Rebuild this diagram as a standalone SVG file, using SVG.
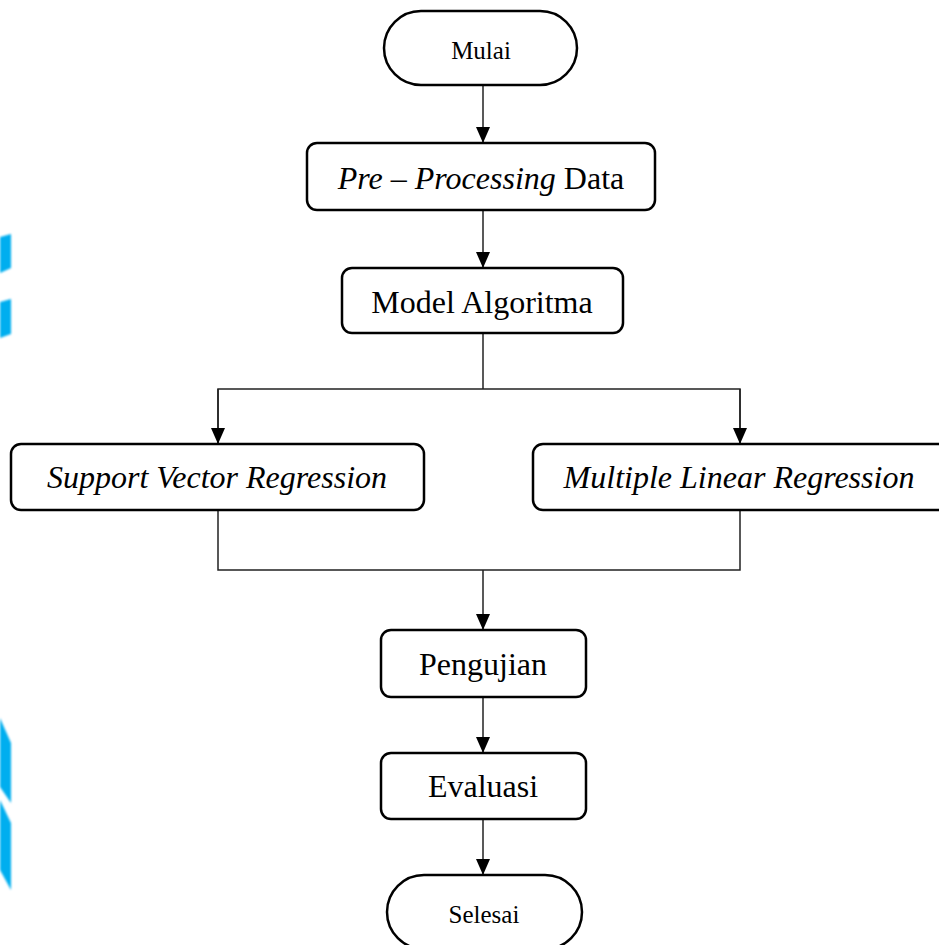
<svg xmlns="http://www.w3.org/2000/svg" width="939" height="945" viewBox="0 0 939 945">
<defs>
<marker id="arr" markerUnits="userSpaceOnUse" markerWidth="16" markerHeight="16" viewBox="0 0 16 14" refX="16" refY="7" orient="auto">
<path d="M0,0 L16,7 L0,14 Z" fill="#000"/>
</marker>
<filter id="soft" x="-20%" y="-20%" width="140%" height="140%"><feGaussianBlur stdDeviation="0.8"/></filter>
</defs>
<style>
.box{fill:#fff;stroke:#000;stroke-width:2.5}
.con{fill:none;stroke:#222;stroke-width:1.5}
.t{font-family:"Liberation Serif","Times New Roman",serif;fill:#000;text-anchor:middle}
.big{font-size:32px}
.sm{font-size:25px}
.it{font-style:italic}
.deco{fill:#00aeef}
</style>
<rect width="939" height="945" fill="#fff"/>
<g id="decor" filter="url(#soft)">
<polygon class="deco" points="0,237 11,234 11,268 0,273"/>
<polygon class="deco" points="0,302 11,299 11,334 0,338"/>
<polygon class="deco" points="0,718 11,743 11,803 0,787"/>
<polygon class="deco" points="0,800 11,823 11,890 0,870"/>
</g>
<g id="connectors">
<line class="con" x1="483" y1="85" x2="483" y2="143" marker-end="url(#arr)"/>
<line class="con" x1="483" y1="210" x2="483" y2="268" marker-end="url(#arr)"/>
<polyline class="con" points="483,333 483,389"/>
<polyline class="con" points="218,444 218,389 740,389 740,444"/>
<line class="con" x1="218" y1="389" x2="218" y2="444" marker-end="url(#arr)"/>
<line class="con" x1="740" y1="389" x2="740" y2="444" marker-end="url(#arr)"/>
<polyline class="con" points="218,510 218,570 740,570 740,510"/>
<line class="con" x1="483" y1="570" x2="483" y2="630" marker-end="url(#arr)"/>
<line class="con" x1="483" y1="697" x2="483" y2="753" marker-end="url(#arr)"/>
<line class="con" x1="483" y1="819" x2="483" y2="875" marker-end="url(#arr)"/>
</g>
<g id="mulai">
<rect class="box" x="384" y="11" width="193" height="74" rx="37"/>
<text class="t sm" x="481" y="59">Mulai</text>
</g>
<g id="preprocessing">
<rect class="box" x="307" y="143" width="348" height="67" rx="10"/>
<text class="t big" x="481" y="189"><tspan class="it">Pre – Processing</tspan> Data</text>
</g>
<g id="model">
<rect class="box" x="342" y="268" width="281" height="65" rx="10"/>
<text class="t big" x="482" y="313">Model Algoritma</text>
</g>
<g id="svr">
<rect class="box" x="11" y="444" width="413" height="66" rx="10"/>
<text class="t big it" x="217" y="488">Support Vector Regression</text>
</g>
<g id="mlr">
<rect class="box" x="533" y="444" width="420" height="66" rx="10"/>
<text class="t big it" x="739" y="488">Multiple Linear Regression</text>
</g>
<g id="pengujian">
<rect class="box" x="381" y="630" width="205" height="67" rx="10"/>
<text class="t big" x="483" y="675">Pengujian</text>
</g>
<g id="evaluasi">
<rect class="box" x="381" y="753" width="205" height="66" rx="10"/>
<text class="t big" x="483" y="797">Evaluasi</text>
</g>
<g id="selesai">
<rect class="box" x="387" y="875" width="195" height="74" rx="37"/>
<text class="t sm" x="484" y="923">Selesai</text>
</g>
</svg>
